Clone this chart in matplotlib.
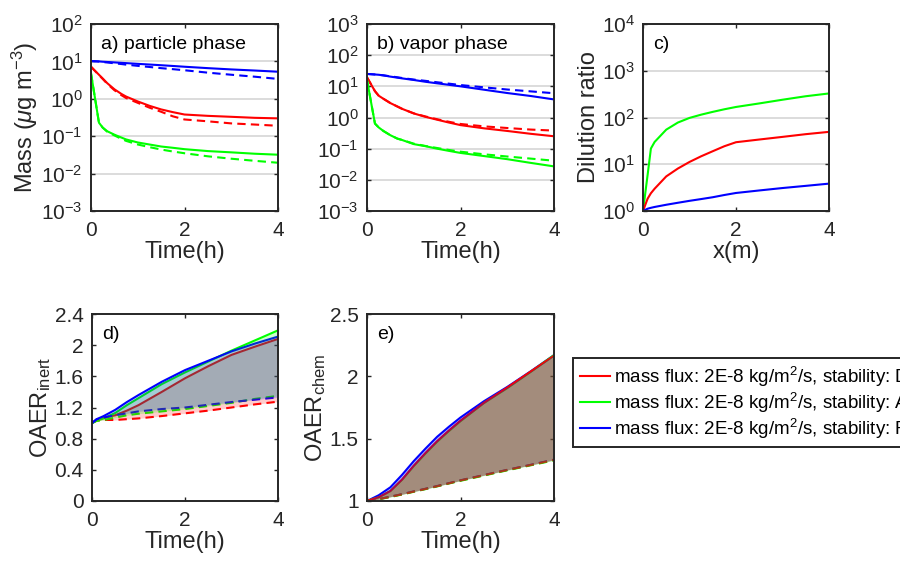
import matplotlib
matplotlib.use("Agg")
import matplotlib.pyplot as plt

plt.rcParams['font.family'] = ['Liberation Sans', 'DejaVu Sans']
plt.rcParams['mathtext.fontset'] = 'custom'
plt.rcParams['mathtext.rm'] = 'Liberation Sans'
plt.rcParams['mathtext.it'] = 'Liberation Sans:italic'
plt.rcParams['mathtext.bf'] = 'Liberation Sans:bold'

INK = '#262626'
RED, GREEN, BLUE = (1, 0, 0), (0, 1, 0), (0, 0, 1)

# ---- a) particle phase mass (ug m^-3); solid = model run, dashed = reference run
t_ab = [0, 0.17, 0.25, 0.35, 0.5, 0.65, 0.75, 1, 1.25, 1.5, 1.75, 2, 2.5, 3, 3.5, 4]
part_D = [7.2, 4.4, 3.5, 2.6, 1.8, 1.35, 1.15, 0.85, 0.65, 0.52, 0.44, 0.38, 0.35, 0.33, 0.31, 0.30]
part_D_ref = [7.2, 4.3, 3.4, 2.5, 1.7, 1.25, 1.05, 0.78, 0.58, 0.45, 0.34, 0.28, 0.25, 0.22, 0.205, 0.19]
part_A = [4.8, 0.23, 0.17, 0.135, 0.11, 0.092, 0.082, 0.068, 0.060, 0.053, 0.049, 0.045, 0.040, 0.037, 0.034, 0.032]
part_A_ref = [4.8, 0.23, 0.17, 0.13, 0.105, 0.085, 0.075, 0.060, 0.051, 0.044, 0.039, 0.035, 0.029, 0.025, 0.022, 0.0195]
part_F = [10.2, 10.0, 9.8, 9.65, 9.4, 9.15, 9.0, 8.6, 8.25, 7.9, 7.55, 7.2, 6.6, 6.1, 5.7, 5.3]
part_F_ref = [10.2, 9.9, 9.6, 9.35, 8.9, 8.5, 8.2, 7.6, 7.1, 6.6, 6.2, 5.8, 5.0, 4.4, 3.9, 3.4]

# ---- b) vapor phase mass
vap_D = [19.5, 7.0, 5.0, 4.0, 2.9, 2.25, 1.9, 1.35, 1.05, 0.85, 0.69, 0.57, 0.45, 0.37, 0.30, 0.25]
vap_D_ref = [19.5, 7.0, 5.0, 4.0, 2.9, 2.25, 1.9, 1.36, 1.08, 0.88, 0.73, 0.62, 0.52, 0.46, 0.41, 0.38]
vap_A = [16, 0.64, 0.48, 0.37, 0.27, 0.21, 0.19, 0.14, 0.12, 0.10, 0.085, 0.073, 0.058, 0.046, 0.035, 0.027]
vap_A_ref = [16, 0.64, 0.48, 0.37, 0.27, 0.21, 0.19, 0.145, 0.122, 0.105, 0.091, 0.080, 0.066, 0.056, 0.048, 0.041]
vap_F = [25, 24, 23.5, 22.5, 20.5, 19, 18, 16, 14, 12.5, 11.2, 10, 7.8, 6.1, 4.9, 3.8]
vap_F_ref = [25, 24, 23.5, 22.5, 21, 19.5, 18.5, 16.5, 15, 13.5, 12.2, 11, 9.3, 7.9, 6.9, 6.0]

# ---- c) dilution ratio
x_c = [0, 0.1, 0.17, 0.25, 0.5, 0.75, 1, 1.25, 1.5, 1.75, 2, 2.5, 3, 3.5, 4]
dil_D = [1, 1.84, 2.4, 3.0, 5.5, 8.1, 11.2, 14.8, 19, 24.3, 29.6, 33.8, 38.5, 44, 49.3]
dil_A = [1, 6, 21.7, 30, 55, 78, 98, 115, 132, 150, 168, 200, 240, 285, 327]
dil_F = [1, 1.12, 1.17, 1.22, 1.36, 1.5, 1.65, 1.8, 1.97, 2.2, 2.43, 2.75, 3.1, 3.45, 3.85]

# ---- d) OAER, inert
t_d = [0, 0.1, 0.25, 0.5, 0.75, 1, 1.5, 2, 2.5, 3, 3.5, 4]
inert_D = [1.0, 1.04, 1.07, 1.10, 1.16, 1.23, 1.40, 1.575, 1.73, 1.875, 1.98, 2.08]
inert_D_ref = [1.0, 1.03, 1.04, 1.04, 1.05, 1.06, 1.09, 1.125, 1.16, 1.20, 1.24, 1.275]
inert_A = [1.0, 1.03, 1.06, 1.13, 1.23, 1.32, 1.50, 1.65, 1.79, 1.93, 2.06, 2.19]
inert_A_ref = [1.0, 1.03, 1.04, 1.07, 1.10, 1.12, 1.15, 1.18, 1.22, 1.26, 1.31, 1.35]
inert_F = [1.0, 1.05, 1.09, 1.17, 1.27, 1.36, 1.53, 1.68, 1.80, 1.92, 2.02, 2.11]
inert_F_ref = [1.0, 1.05, 1.07, 1.10, 1.125, 1.15, 1.18, 1.20, 1.235, 1.27, 1.30, 1.33]

# ---- e) OAER, chem
t_e = [0, 0.25, 0.5, 0.75, 1, 1.25, 1.5, 1.75, 2, 2.5, 3, 3.5, 4]
chem_D = [1.0, 1.03, 1.08, 1.172, 1.283, 1.385, 1.48, 1.565, 1.645, 1.787, 1.91, 2.038, 2.165]
chem_D_ref = [1.0, 1.015, 1.034, 1.054, 1.076, 1.097, 1.119, 1.142, 1.165, 1.207, 1.249, 1.289, 1.33]
chem_A = [1.0, 1.03, 1.08, 1.17, 1.28, 1.38, 1.475, 1.56, 1.64, 1.785, 1.905, 2.035, 2.17]
chem_A_ref = [1.0, 1.013, 1.032, 1.052, 1.074, 1.095, 1.117, 1.14, 1.162, 1.204, 1.246, 1.286, 1.326]
chem_F = [1.0, 1.046, 1.11, 1.21, 1.32, 1.42, 1.515, 1.595, 1.67, 1.80, 1.915, 2.04, 2.17]
chem_F_ref = [1.0, 1.015, 1.035, 1.055, 1.077, 1.098, 1.12, 1.143, 1.166, 1.208, 1.25, 1.29, 1.332]

legend_labels = ['mass flux: 2E-8 kg/m$^2$/s, stability: D',
                 'mass flux: 2E-8 kg/m$^2$/s, stability: A',
                 'mass flux: 2E-8 kg/m$^2$/s, stability: F']

W, H = 900, 564
fig = plt.figure(figsize=(W / 100, H / 100), dpi=100)
DASH = (0, (4, 2.5))


def make_axes(left, top, right, bottom):
    return fig.add_axes([left / W, 1 - bottom / H, (right - left) / W, (bottom - top) / H])


def style(ax, xlabel, ylabel, tag, grid=False):
    for s in ax.spines.values():
        s.set_color(INK)
        s.set_linewidth(1.4)
    ax.tick_params(direction='in', length=3, width=1.0, colors=INK, labelsize=15,
                   top=True, right=True, pad=6)
    ax.tick_params(axis='x', pad=7)
    ax.minorticks_off()
    ax.set_xlim(0, 4)
    ax.set_xticks([0, 2, 4])
    ax.set_xlabel(xlabel, fontsize=17, color=INK, labelpad=1)
    ax.set_ylabel(ylabel, fontsize=17, color=INK, labelpad=1)
    if grid:
        ax.grid(axis='y', color='#dcdcdc', linewidth=1.4, zorder=0)
        ax.set_axisbelow(True)
    ax.text(0.053, 0.89, tag, transform=ax.transAxes, fontsize=14, color='black',
            va='center', ha='left')


# a) particle phase
ax = make_axes(91, 24, 278, 211)
ax.set_yscale('log')
for y, yr, c in [(part_F, part_F_ref, BLUE), (part_D, part_D_ref, RED), (part_A, part_A_ref, GREEN)]:
    ax.plot(t_ab, y, color=c, lw=1.5)
    ax.plot(t_ab, yr, color=c, lw=1.5, ls=DASH)
ax.set_ylim(1e-3, 1e2)
ax.set_yticks([1e-3, 1e-2, 1e-1, 1e0, 1e1, 1e2])
style(ax, 'Time(h)', r'Mass ($\mu$g m$^{-3}$)', 'a) particle phase', grid=True)

# b) vapor phase
ax = make_axes(367, 24, 554, 211)
ax.set_yscale('log')
for y, yr, c in [(vap_F, vap_F_ref, BLUE), (vap_D, vap_D_ref, RED), (vap_A, vap_A_ref, GREEN)]:
    ax.plot(t_ab, y, color=c, lw=1.5)
    ax.plot(t_ab, yr, color=c, lw=1.5, ls=DASH)
ax.set_ylim(1e-3, 1e3)
ax.set_yticks([1e-3, 1e-2, 1e-1, 1e0, 1e1, 1e2, 1e3])
style(ax, 'Time(h)', '', 'b) vapor phase', grid=True)

# c) dilution ratio
ax = make_axes(643, 24, 829, 211)
ax.set_yscale('log')
for y, c in [(dil_A, GREEN), (dil_D, RED), (dil_F, BLUE)]:
    ax.plot(x_c, y, color=c, lw=1.5)
ax.set_ylim(1e0, 1e4)
ax.set_yticks([1e0, 1e1, 1e2, 1e3, 1e4])
style(ax, 'x(m)', 'Dilution ratio', 'c)', grid=True)

# d) OAER inert: lines beneath translucent bands between the two runs
ax = make_axes(92, 314, 278, 501)
handles = []
for y, yr, c in [(inert_D, inert_D_ref, RED), (inert_A, inert_A_ref, GREEN), (inert_F, inert_F_ref, BLUE)]:
    h, = ax.plot(t_d, y, color=c, lw=1.5, zorder=1)
    ax.plot(t_d, yr, color=c, lw=1.5, ls=DASH, zorder=1)
    ax.fill_between(t_d, y, yr, color=c, alpha=0.2, lw=0, zorder=2)
    handles.append(h)
ax.set_ylim(0, 2.4)
ax.set_yticks([0, 0.4, 0.8, 1.2, 1.6, 2.0, 2.4])
ax.set_yticklabels(['0', '0.4', '0.8', '1.2', '1.6', '2', '2.4'])
style(ax, 'Time(h)', r'OAER$_{\mathrm{inert}}$', 'd)')

# e) OAER chem
ax = make_axes(367, 314, 554, 501)
for y, yr, c in [(chem_F, chem_F_ref, BLUE), (chem_A, chem_A_ref, GREEN), (chem_D, chem_D_ref, RED)]:
    ax.plot(t_e, y, color=c, lw=1.5, zorder=1)
    ax.plot(t_e, yr, color=c, lw=1.5, ls=DASH, zorder=1)
    ax.fill_between(t_e, y, yr, color=c, alpha=0.3, lw=0, zorder=2)
ax.set_ylim(1, 2.5)
ax.set_yticks([1, 1.5, 2, 2.5])
ax.set_yticklabels(['1', '1.5', '2', '2.5'])
style(ax, 'Time(h)', r'OAER$_{\mathrm{chem}}$', 'e)')

leg = fig.legend(handles, legend_labels, loc='upper left',
                 bbox_to_anchor=(573 / W, 1 - 358 / H), bbox_transform=fig.transFigure,
                 borderaxespad=0, fontsize=13.5, frameon=True, fancybox=False,
                 framealpha=1, edgecolor=INK, handlelength=1.6, handletextpad=0.25,
                 labelspacing=0.1, borderpad=0.35)
leg.get_frame().set_linewidth(1.4)

fig.savefig('out.png', dpi=100)
